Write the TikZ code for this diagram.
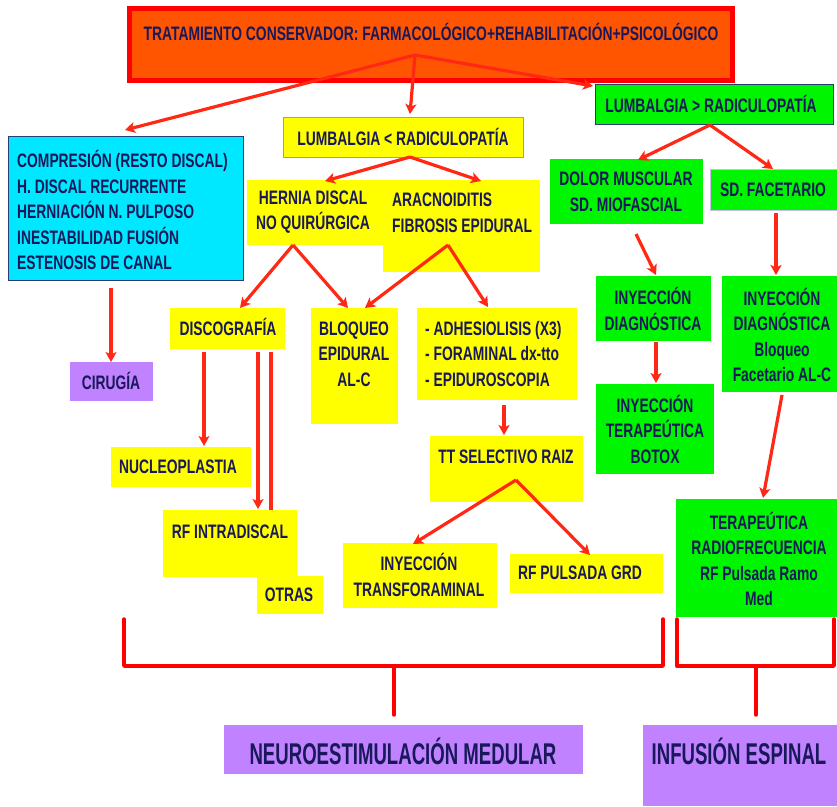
\documentclass[tikz,border=0pt]{standalone}
\usepackage{fontspec}
\setmainfont{Liberation Sans}[FakeStretch=0.71]
\newfontfamily\bigfont{Liberation Sans}[FakeStretch=0.62]
\usetikzlibrary{arrows.meta}
\definecolor{ink}{RGB}{24,24,90}
\definecolor{arrred}{RGB}{255,40,20}
\definecolor{ylw}{RGB}{255,255,0}
\definecolor{grn}{RGB}{0,245,0}
\definecolor{cyn}{RGB}{0,232,255}
\definecolor{purp}{RGB}{192,130,255}
\definecolor{orng}{RGB}{255,85,0}
\definecolor{topred}{RGB}{255,0,0}
\definecolor{cynline}{RGB}{40,60,120}
\definecolor{lav}{RGB}{200,190,240}
\definecolor{ylwline}{RGB}{255,140,0}
\newcommand\rbox[6]{\node[box,#2,minimum width={(#5)-(#3)},minimum height={(#6)-(#4)}] (#1) at ({((#3)+(#5))/2},{((#4)+(#6))/2}) {};}
\tikzset{
  box/.style={inner sep=0pt,outer sep=0pt,rectangle},
  txt/.style={text=ink,font=\fontsize{19.5}{25.5}\selectfont\bfseries,inner sep=0pt,align=center},
  txtl/.style={txt,align=left,anchor=west},
  bigtxt/.style={text=ink,font=\bigfont\fontsize{30}{34}\selectfont\bfseries,inner sep=0pt},
  arr/.style={draw=arrred,line width=3.2pt,-{Stealth[length=10pt,width=11pt,inset=2.5pt]}},
  brk/.style={draw=topred,line width=3.4pt,line join=round,line cap=round},
}
\begin{document}
\begin{tikzpicture}[x=1pt,y=-1pt]
\useasboundingbox (0,0) rectangle (837,806);
% ---------- boxes ----------
\rbox{top}{fill=orng,draw=topred,line width=5pt}{129}{8}{732}{80}
\rbox{cyan}{fill=cyn,draw=cynline,line width=1pt}{8}{136}{243}{280}
\rbox{cir}{fill=purp}{70}{362}{153}{401}
\rbox{lumbL}{fill=ylw,draw=ylwline,line width=1pt}{283}{117}{523}{157}
\rbox{arac}{fill=ylw}{383}{180}{540}{272}
\rbox{hernia}{fill=ylw}{247}{180}{384}{245}
\rbox{disco}{fill=ylw}{170}{308}{285}{349}
\rbox{bloq}{fill=ylw}{311}{308}{398}{424}
\rbox{adh}{fill=ylw}{417}{308}{577}{400}
\rbox{nuc}{fill=ylw}{111}{447}{251}{487}
\rbox{tt}{fill=ylw}{430}{436}{583}{502}
\rbox{rfi}{fill=ylw}{163}{510}{297}{577}
\rbox{otras}{fill=ylw}{257}{576}{323}{614}
\rbox{inyT}{fill=ylw}{343}{543}{497}{608}
\rbox{rfp}{fill=ylw}{510}{554}{663}{593}
\rbox{lumbG}{fill=grn,draw=cynline,line width=0.8pt}{595}{84}{833}{124}
\rbox{dolor}{fill=grn}{550}{159}{703}{224}
\rbox{sdf}{fill=grn,draw=lav,line width=1pt}{710}{169}{837}{210}
\rbox{inyD1}{fill=grn}{596}{276}{711}{341}
\rbox{inyD2}{fill=grn}{722}{276}{837}{392}
\rbox{inyTer}{fill=grn}{596}{384}{714}{474}
\rbox{terap}{fill=grn}{676}{499}{837}{617}
\rbox{neuro}{fill=purp}{224}{725}{583}{774}
\rbox{inf}{fill=purp}{643}{725}{837}{806}
% ---------- texts ----------
\node[txt] (top-t) at (431,32) {TRATAMIENTO CONSERVADOR: FARMACOLÓGICO+REHABILITACIÓN+PSICOLÓGICO};
\node[txtl] (cyan-t) at (17,210) {COMPRESIÓN (RESTO DISCAL)\\H. DISCAL RECURRENTE\\HERNIACIÓN N. PULPOSO\\INESTABILIDAD FUSIÓN\\ESTENOSIS DE CANAL};
\node[txt] (cir-t) at (111,381) {CIRUGÍA};
\node[txt] (lumbL-t) at (403,137) {LUMBALGIA < RADICULOPATÍA};
\node[txt] (hernia-t) at (313,212) {HERNIA DISCAL\\NO QUIRÚRGICA};
\node[txtl] (arac-t) at (392,213) {ARACNOIDITIS\\FIBROSIS EPIDURAL};
\node[txt] (disco-t) at (228,327) {DISCOGRAFÍA};
\node[txt] (bloq-t) at (354,354) {BLOQUEO\\EPIDURAL\\AL-C};
\node[txtl] (adh-t) at (425,354) {- ADHESIOLISIS (X3)\\- FORAMINAL dx-tto\\- EPIDUROSCOPIA};
\node[txt] (tt-t) at (506,457) {TT SELECTIVO RAIZ};
\node[txt] (nuc-t) at (178,467) {NUCLEOPLASTIA};
\node[txt] (rfi-t) at (230,532) {RF INTRADISCAL};
\node[txt] (otras-t) at (289,595) {OTRAS};
\node[txt] (inyT-t) at (419,575) {INYECCIÓN\\TRANSFORAMINAL};
\node[txt] (rfp-t) at (580,573) {RF PULSADA GRD};
\node[txt] (lumbG-t) at (711,104) {LUMBALGIA > RADICULOPATÍA};
\node[txt] (dolor-t) at (626,192) {DOLOR MUSCULAR\\SD. MIOFASCIAL};
\node[txt] (sdf-t) at (773,190) {SD. FACETARIO};
\node[txt] (inyD1-t) at (653,309) {INYECCIÓN\\DIAGNÓSTICA};
\node[txt] (inyD2-t) at (782,335) {INYECCIÓN\\DIAGNÓSTICA\\Bloqueo\\Facetario AL-C};
\node[txt] (inyTer-t) at (655,429) {INYECCIÓN\\TERAPEÚTICA\\BOTOX};
\node[txt] (terap-t) at (759,559) {TERAPEÚTICA\\RADIOFRECUENCIA\\RF Pulsada Ramo\\Med};
\node[bigtxt] (neuro-t) at (403,751) {NEUROESTIMULACIÓN MEDULAR};
\node[bigtxt] (inf-t) at (739,751) {INFUSIÓN ESPINAL};
% ---------- connector points ----------
\coordinate (hubTop) at (415,55);
\coordinate (hubL) at (410,157);
\coordinate (hubH) at (293,245);
\coordinate (hubA) at (448,245);
\coordinate (hubT) at (516,480);
\coordinate (hubG) at (710,125);
% ---------- arrows ----------
\draw[arr] (hubTop) -- (125,130);
\draw[arr] (hubTop) -- (410,114);
\draw[arr] (hubTop) -- (593,86);
\draw[arr] (111,288) -- (cir.north -| 111,0);
\draw[arr] (hubL) -- (325,181);
\draw[arr] (hubL) -- (481,181);
\draw[arr] (hubH) -- (240,308);
\draw[arr] (hubH) -- (348,308);
\draw[arr] (hubA) -- (365,308);
\draw[arr] (hubA) -- (488,307);
\draw[arr] (204,352) -- (204,446);
\draw[arr] (258,352) -- (258,509);
\draw[draw=arrred,line width=3.2pt] (271,352) -- (271,510);
\draw[arr] (504,405) -- (504,435);
\draw[arr] (hubT) -- (413,544);
\draw[arr] (hubT) -- (590,555);
\draw[arr] (hubG) -- (638,160);
\draw[arr] (hubG) -- (773,169);
\draw[arr] (636,234) -- (656,275);
\draw[arr] (776,213) -- (776,275);
\draw[arr] (656,342) -- (656,383);
\draw[arr] (782,395) -- (763,498);
% ---------- brackets ----------
\draw[brk] (124,619) -- (124,666) -- (663,666) -- (663,619);
\draw[brk] (394,666) -- (394,715);
\draw[brk] (677,619) -- (677,666) -- (834,666) -- (834,619);
\draw[brk] (756,666) -- (756,715);
\end{tikzpicture}
\end{document}
